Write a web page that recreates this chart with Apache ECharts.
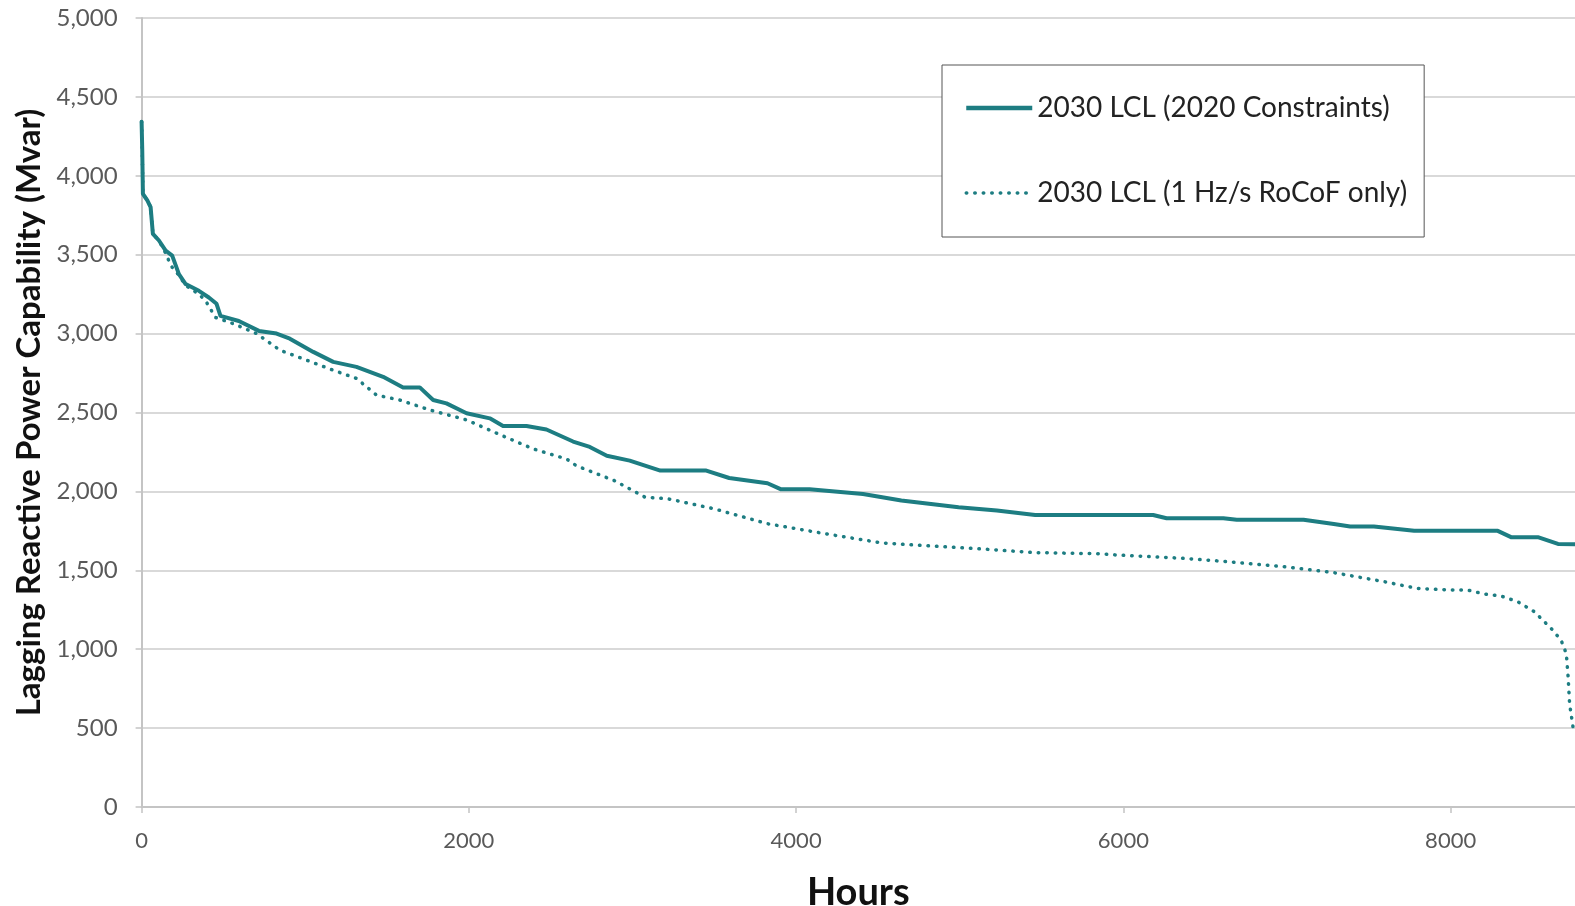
<!DOCTYPE html>
<html>
<head>
<meta charset="utf-8">
<script src="https://cdn.jsdelivr.net/npm/echarts@6/dist/echarts.min.js"></script>
<style>
  html, body { margin: 0; padding: 0; background: #ffffff; }
  #chart { width: 1575px; height: 906px; }
</style>
</head>
<body>
<div id="chart"></div>
<script>
// Lagging reactive power capability duration curves over a year (8760 h)
const seriesNames = ['2030 LCL (2020 Constraints)', '2030 LCL (1 Hz/s RoCoF only)'];

const hoursConstraints = [0, 4, 8, 35, 55, 69, 106, 147, 187, 228, 269, 350, 411, 458, 482, 594, 717, 825, 906,
  1049, 1171, 1313, 1476, 1598, 1700, 1782, 1863, 1986, 2128, 2209, 2352, 2474, 2637, 2739, 2843, 2983,
  3170, 3451, 3591, 3825, 3905, 4082, 4409, 4643, 4993, 5227, 5461, 6182, 6264, 6611, 6693, 7101, 7286,
  7386, 7531, 7777, 8288, 8369, 8533, 8656, 8760];
const mvarConstraints = [4343, 4160, 3886, 3844, 3802, 3632, 3590, 3526, 3494, 3377, 3314, 3271, 3229, 3189, 3112,
  3080, 3017, 3000, 2968, 2884, 2821, 2789, 2726, 2659, 2659, 2579, 2558, 2495, 2463, 2415, 2415, 2392,
  2316, 2282, 2226, 2195, 2132, 2132, 2085, 2052, 2014, 2014, 1984, 1942, 1900, 1879, 1850, 1850, 1830,
  1830, 1820, 1820, 1794, 1777, 1777, 1750, 1750, 1710, 1710, 1667, 1665];

const hoursRocof = [0, 4, 8, 35, 55, 69, 106, 147, 167, 187, 228, 269, 350, 391, 452, 560, 703, 845, 1008,
  1171, 1313, 1436, 1578, 1761, 1986, 2189, 2392, 2598, 2656, 2890, 3077, 3217, 3498, 3825, 4176, 4526,
  4760, 5110, 5461, 5853, 5957, 6366, 6632, 6979, 7286, 7593, 7797, 8001, 8103, 8205, 8308, 8410, 8512,
  8615, 8675, 8707, 8718, 8727, 8748, 8752];
const mvarRocof = [4343, 4160, 3886, 3844, 3802, 3632, 3590, 3510, 3460, 3420, 3370, 3305, 3250, 3208, 3102,
  3063, 3000, 2895, 2832, 2768, 2716, 2610, 2579, 2516, 2453, 2360, 2270, 2205, 2163, 2068, 1963, 1953,
  1890, 1795, 1732, 1673, 1658, 1637, 1612, 1605, 1597, 1576, 1555, 1523, 1485, 1428, 1385, 1375, 1375,
  1350, 1337, 1301, 1237, 1131, 1057, 972, 824, 654, 506, 500];

const xTicks = [0, 2000, 4000, 6000, 8000];
const yTicks = [0, 500, 1000, 1500, 2000, 2500, 3000, 3500, 4000, 4500, 5000];

const zip = (xs, ys) => xs.map((x, i) => [x, ys[i]]);

const teal = '#1d7d82';
const solidStyle = { color: teal, width: 4, type: 'solid', join: 'round', cap: 'round' };
const dottedStyle = { color: teal, width: 3.5, type: [0.5, 8], cap: 'round' };

const chart = echarts.init(document.getElementById('chart'), null, { renderer: 'canvas' });

chart.setOption({
  animation: false,
  backgroundColor: '#ffffff',
  textStyle: { fontFamily: 'Lato, "Open Sans", sans-serif' },
  grid: { left: 141.6, right: 0, top: 18, bottom: 99, containLabel: false, outerBoundsMode: 'none' },
  legend: {
    orient: 'vertical',
    left: 942,
    top: 65,
    padding: [29, 17, 30, 22],
    itemGap: 57,
    itemWidth: 66,
    itemHeight: 24,
    backgroundColor: '#ffffff',
    borderColor: '#555555',
    borderWidth: 1,
    borderRadius: 0,
    itemStyle: { opacity: 0 },
    textStyle: { fontSize: 28, color: '#222222', fontFamily: 'Lato, sans-serif' },
    data: [
      { name: seriesNames[0], lineStyle: { width: 4.5, type: 'solid', cap: 'butt' } },
      { name: seriesNames[1], lineStyle: { width: 3.5, type: [0.5, 8], cap: 'round' } }
    ]
  },
  xAxis: {
    type: 'value',
    min: 0,
    max: 8760,
    interval: 2000,
    name: 'Hours',
    nameLocation: 'middle',
    nameGap: 67,
    nameTextStyle: { fontSize: 38, fontWeight: 'bold', color: '#111111', fontFamily: 'Lato, sans-serif' },
    axisLine: { show: true, lineStyle: { color: '#c4c4c4', width: 2 } },
    axisTick: { show: true, length: 6, lineStyle: { color: '#c4c4c4', width: 1.5 } },
    axisLabel: {
      margin: 23, fontSize: 22, color: '#595959', showMaxLabel: false,
      formatter: v => (xTicks.includes(v) ? String(v) : '')
    },
    splitLine: { show: false }
  },
  yAxis: {
    type: 'value',
    min: 0,
    max: 5000,
    interval: 500,
    name: 'Lagging Reactive Power Capability (Mvar)',
    nameLocation: 'middle',
    nameGap: 96,
    nameTextStyle: { fontSize: 33, fontWeight: 'bold', color: '#111111', fontFamily: 'Lato, sans-serif' },
    axisLine: { show: true, lineStyle: { color: '#c4c4c4', width: 2 } },
    axisTick: { show: true, length: 6, lineStyle: { color: '#c4c4c4', width: 1.5 } },
    axisLabel: {
      margin: 24, fontSize: 24, color: '#595959',
      formatter: v => (yTicks.includes(v) ? v.toLocaleString('en-US') : '')
    },
    splitLine: { show: true, lineStyle: { color: '#cdcdcd', width: 1.5 } }
  },
  series: [
    {
      name: seriesNames[0],
      type: 'line',
      data: zip(hoursConstraints, mvarConstraints),
      symbol: 'none',
      lineStyle: solidStyle,
      itemStyle: { color: teal },
      z: 3
    },
    {
      name: seriesNames[1],
      type: 'line',
      data: zip(hoursRocof, mvarRocof),
      symbol: 'none',
      lineStyle: dottedStyle,
      itemStyle: { color: teal },
      z: 2
    }
  ]
});
</script>
</body>
</html>
